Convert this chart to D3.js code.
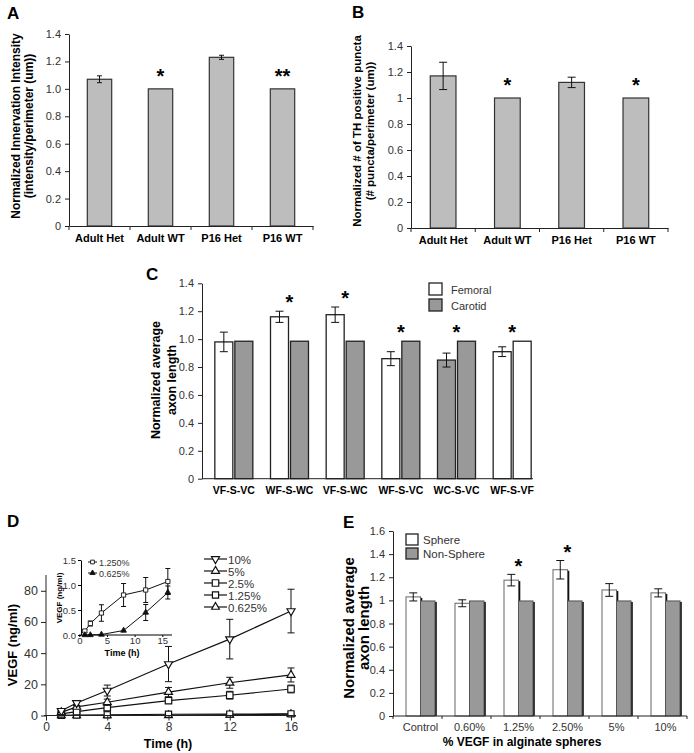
<!DOCTYPE html>
<html><head><meta charset="utf-8">
<script src="https://cdn.jsdelivr.net/npm/d3@7"></script>
<style>body{margin:0;background:#fff} svg{display:block;font-family:"Liberation Sans",Arial,sans-serif}</style>
</head><body>
<script>
// ---------- Panel A ----------
const catsA = ["Adult Het","Adult WT","P16 Het","P16 WT"];
const valsA = [1.07,1.0,1.23,1.0];
const errA  = [0.025,0,0.015,0];
const starsA = ["","*","","**"];
const ticksA = [0,0.2,0.4,0.6,0.8,1.0,1.2,1.4];
// ---------- Panel B ----------
const catsB = ["Adult Het","Adult WT","P16 Het","P16 WT"];
const valsB = [1.17,1.0,1.12,1.0];
const errB  = [0.105,0,0.04,0];
const starsB = ["","*","","*"];
const ticksB = [0,0.2,0.4,0.6,0.8,1.0,1.2,1.4];
// ---------- Panel C ----------
const catsC = ["VF-S-VC","WF-S-WC","VF-S-WC","WF-S-VC","WC-S-VC","WF-S-VF"];
const femoralC = [0.98,1.16,1.175,0.86,0.85,0.91];
const femoralErrC = [0.07,0.04,0.055,0.05,0.05,0.035];
const carotidC = [0.985,0.985,0.985,0.985,0.985,0.985];
const firstFillC = ["white","white","white","white","gray","white"];
const secondFillC = ["gray","gray","gray","gray","gray","white"];
const starsC = ["","*","*","*","*","*"];
const seriesC = ["Femoral","Carotid"];
const ticksC = [0,0.2,0.4,0.6,0.8,1.0,1.2,1.4];
// ---------- Panel D ----------
const timeD = [1,2,4,8,12,16];
const seriesD = ["10%","5%","2.5%","1.25%","0.625%"];
const v10 = [3,8,16,33,49,67],        e10 = [1,1.5,3.5,11.3,12.7,14];
const v5  = [2,5.5,8.5,15,21,26],     e5  = [0.5,1,2,3,3.5,4.5];
const v25 = [1,2.5,5,9.5,13,17],      e25 = [0.5,1,2,1.5,2.5,2.5];
const v125  = [0.08,0.23,0.44,0.8,0.9,1.07], e125  = [0.03,0.05,0.165,0.23,0.25,0.26];
const v0625 = [0,0,0.01,0.09,0.45,0.85],     e0625 = [0,0,0.01,0.02,0.16,0.13];
const ticksDx = [0,4,8,12,16], ticksDy = [0,20,40,60,80];
const insetSeries = ["1.250%","0.625%"];
const ticksInX = [0,5,10,15], ticksInY = [0,0.5,1.0,1.5];
// ---------- Panel E ----------
const catsE = ["Control","0.60%","1.25%","2.50%","5%","10%"];
const sphereE = [1.03,0.975,1.175,1.265,1.09,1.065];
const sphereErrE = [0.035,0.03,0.05,0.08,0.055,0.035];
const nonSphereE = [0.995,0.995,0.995,0.995,0.995,0.995];
const starsE = ["","","*","*","",""];
const seriesE = ["Sphere","Non-Sphere"];
const ticksE = [0,0.2,0.4,0.6,0.8,1.0,1.2,1.4,1.6];

const GRAY_AB = "#bdbdbd", GRAY = "#999";
const svg = d3.select("body").append("svg").attr("width",694).attr("height",753);
const fmt1 = d => d===0 ? "0" : d.toFixed(1);
const fmtShort = d3.format(".1~f");

function panelLetter(t,x,y){
  svg.append("text").attr("x",x).attr("y",y).attr("font-size",17).attr("font-weight","bold").text(t);
}
function yAxis(y,x,ticks,fmt,fs){
  const g = svg.append("g").attr("transform",`translate(${x},0)`)
    .call(d3.axisLeft(y).tickValues(ticks).tickFormat(fmt).tickSize(4).tickSizeOuter(0).tickPadding(4));
  g.select(".domain").attr("stroke","#222");
  g.selectAll(".tick line").attr("stroke","#222");
  g.selectAll("text").attr("font-size",fs).attr("fill","#333");
  return g;
}
function yTitle(lines,xs,cy,fs){
  lines.forEach((l,i)=>svg.append("text").attr("transform",`translate(${xs[i]},${cy}) rotate(-90)`)
    .attr("text-anchor","middle").attr("font-size",fs).attr("font-weight","bold").text(l));
}
function errBar(g,x,yTop,yBot,cap){
  g.append("line").attr("x1",x).attr("x2",x).attr("y1",yTop).attr("y2",yBot).attr("stroke","#111").attr("stroke-width",1);
  g.append("line").attr("x1",x-cap/2).attr("x2",x+cap/2).attr("y1",yTop).attr("y2",yTop).attr("stroke","#111").attr("stroke-width",1);
  g.append("line").attr("x1",x-cap/2).attr("x2",x+cap/2).attr("y1",yBot).attr("y2",yBot).attr("stroke","#111").attr("stroke-width",1);
}
function star(txt,x,yc,fs){
  svg.append("text").attr("x",x).attr("y",yc+fs*0.56).attr("text-anchor","middle")
    .attr("font-size",fs).attr("font-weight","bold").text(txt);
}

// ===== simple bar panel (A, B) =====
function simplePanel(cats,vals,errs,stars,ticks,fmt,x0,x1,y0,y1,cap,titleLines,titleXs,titleCy,titleFs){
  const x = d3.scaleBand(cats,[x0,x1]).paddingInner(0.6).paddingOuter(0.3);
  const y = d3.scaleLinear([0,1.4],[y0,y1]);
  const g = svg.append("g");
  g.selectAll("rect").data(cats).join("rect")
    .attr("x",d=>x(d)).attr("width",x.bandwidth())
    .attr("y",(d,i)=>y(vals[i])).attr("height",(d,i)=>y(0)-y(vals[i]))
    .attr("fill",GRAY_AB).attr("stroke","#333").attr("stroke-width",1.2);
  cats.forEach((c,i)=>{
    const cx = x(c)+x.bandwidth()/2;
    if(errs[i]>0) errBar(g,cx,y(vals[i]+errs[i]),y(vals[i]-errs[i]),cap);
    if(stars[i]) star(stars[i],cx,y(vals[i]+errs[i])-17,20);
  });
  yAxis(y,x0,ticks,fmt,11);
  const xa = svg.append("g").attr("transform",`translate(0,${y0})`)
    .call(d3.axisBottom(x).tickSize(0).tickPadding(8).tickSizeOuter(0));
  xa.select(".domain").attr("stroke","#222");
  xa.selectAll("text").attr("font-size",11).attr("font-weight","bold").attr("fill","#000");
  d3.range(cats.length+1).forEach(k=>{
    const bx = x0 + k*x.step();
    xa.append("line").attr("x1",bx).attr("x2",bx).attr("y1",0).attr("y2",4).attr("stroke","#222");
  });
  yTitle(titleLines,titleXs,titleCy,titleFs);
}
panelLetter("A",7,19);
simplePanel(catsA,valsA,errA,starsA,ticksA,fmt1,69,313,226,34,5,
  ["Normalized Innervation Intensity","(intensity/perimeter (um))"],[19.5,32.5],126,12);
panelLetter("B",352,18);
simplePanel(catsB,valsB,errB,starsB,ticksB,fmtShort,411,668,228,46,8,
  ["Normalized # of TH positive puncta","(# puncta/perimeter (um))"],[361,374],131,11.5);

// ===== Panel C =====
panelLetter("C",146,280);
{
  const x = d3.scaleBand(catsC,[206,540]);
  const xs = d3.scaleBand([0,1],[x.step()/2-19,x.step()/2+19]).paddingInner(0.1);
  const y = d3.scaleLinear([0,1.4],[478.7,283.3]);
  const g = svg.append("g");
  const fillOf = f => f==="gray" ? GRAY : "#fff";
  catsC.forEach((c,i)=>{
    const gx = x(c);
    g.append("rect").attr("x",gx+xs(0)).attr("width",xs.bandwidth())
      .attr("y",y(femoralC[i])).attr("height",y(0)-y(femoralC[i]))
      .attr("fill",fillOf(firstFillC[i])).attr("stroke","#222").attr("stroke-width",1.3);
    g.append("rect").attr("x",gx+xs(1)).attr("width",xs.bandwidth())
      .attr("y",y(carotidC[i])).attr("height",y(0)-y(carotidC[i]))
      .attr("fill",fillOf(secondFillC[i])).attr("stroke","#222").attr("stroke-width",1.3);
    errBar(g,gx+xs(0)+xs.bandwidth()/2,y(femoralC[i]+femoralErrC[i]),y(femoralC[i]-femoralErrC[i]),8);
    if(starsC[i]){
      const top = Math.max(femoralC[i]+femoralErrC[i],carotidC[i]);
      star(starsC[i],gx+x.step()/2,y(top)-13,20);
    }
  });
  yAxis(y,202,ticksC,fmt1,11);
  const xa = svg.append("g").attr("transform","translate(0,478.7)")
    .call(d3.axisBottom(x).tickSize(0).tickPadding(8).tickSizeOuter(0));
  xa.select(".domain").attr("d","M202,0H533").attr("stroke","#222");
  xa.selectAll("text").attr("font-size",10.5).attr("font-weight","bold").attr("fill","#000");
  seriesC.forEach((s,i)=>{
    svg.append("rect").attr("x",429).attr("y",283+i*16).attr("width",13).attr("height",12)
      .attr("fill",i===0?"#fff":GRAY).attr("stroke","#222").attr("stroke-width",1.3);
    svg.append("text").attr("x",451).attr("y",293.5+i*16).attr("font-size",11).attr("fill","#333").text(s);
  });
  yTitle(["Normalized average","axon length"],[160,175.5],380,12.5);
}

// ===== Panel D =====
panelLetter("D",7,527);
{
  const x = d3.scaleLinear([0,16],[46,291]);
  const y = d3.scaleLinear([0,90],[715.5,575.2]);
  const line = d3.line().x((d,i)=>x(timeD[i])).y(d=>y(d));
  const sym = {
    "10%":   {t:d3.symbolTriangle,s:28,r:180},
    "5%":    {t:d3.symbolTriangle,s:28,r:0},
    "2.5%":  {t:d3.symbolSquare,s:42,r:0},
    "1.25%": {t:d3.symbolSquare,s:38,r:0},
    "0.625%":{t:d3.symbolTriangle,s:26,r:0}
  };
  const vals = {"10%":v10,"5%":v5,"2.5%":v25,"1.25%":v125,"0.625%":v0625};
  const errs = {"10%":e10,"5%":e5,"2.5%":e25,"1.25%":null,"0.625%":null};
  const g = svg.append("g");
  seriesD.slice().reverse().forEach(s=>{
    const v = vals[s];
    if(errs[s]) v.forEach((d,i)=>errBar(g,x(timeD[i]),y(d+errs[s][i]),y(Math.max(0,d-errs[s][i])),7));
    g.append("path").attr("d",line(v)).attr("fill","none").attr("stroke","#111").attr("stroke-width",1.2);
    v.forEach((d,i)=>{
      g.append("path").attr("d",d3.symbol(sym[s].t,sym[s].s)())
        .attr("transform",`translate(${x(timeD[i])},${y(d)}) rotate(${sym[s].r})`)
        .attr("fill","#fff").attr("stroke","#111").attr("stroke-width",1.2);
    });
  });
  const ya = yAxis(y,46,ticksDy,d3.format("d"),12.5);
  ya.selectAll(".tick line").attr("x2",-5);
  ya.select(".domain").attr("d","M0,716H0V575");
  const xa = svg.append("g").attr("transform","translate(0,715.5)")
    .call(d3.axisBottom(x).tickValues(ticksDx).tickSize(5).tickSizeOuter(0).tickPadding(2));
  xa.select(".domain").attr("d","M44,0H296").attr("stroke","#222");
  xa.selectAll(".tick line").attr("stroke","#222");
  xa.selectAll("text").attr("font-size",12).attr("fill","#333");
  svg.append("text").attr("x",168).attr("y",747.5).attr("text-anchor","middle").attr("font-size",12.5).attr("font-weight","bold").text("Time (h)");
  yTitle(["VEGF (ng/ml)"],[16.5],645,13);
  // legend
  seriesD.forEach((s,i)=>{
    const ly = 559+i*12;
    svg.append("line").attr("x1",204).attr("x2",227).attr("y1",ly).attr("y2",ly).attr("stroke","#111").attr("stroke-width",1.2);
    svg.append("path").attr("d",d3.symbol(sym[s].t,sym[s].s)())
      .attr("transform",`translate(215.5,${ly}) rotate(${sym[s].r})`)
      .attr("fill","#fff").attr("stroke","#111").attr("stroke-width",1.2);
    svg.append("text").attr("x",228).attr("y",ly+4.5).attr("font-size",11.5).attr("fill","#333").text(s);
  });
  // inset
  const xi = d3.scaleLinear([0,15],[79.3,162.3]);
  const yi = d3.scaleLinear([0,1.5],[635,560]);
  const li = d3.line().x((d,i)=>xi(timeD[i])).y(d=>yi(d));
  const gi = svg.append("g");
  const insetVals = [v125,v0625], insetErr = [e125,e0625];
  insetVals.forEach((v,k)=>{
    v.forEach((d,i)=>{ if(insetErr[k][i]>0.02) errBar(gi,xi(timeD[i]),yi(d+insetErr[k][i]),yi(Math.max(0,d-insetErr[k][i])),5); });
    gi.append("path").attr("d",li(v)).attr("fill","none").attr("stroke","#111").attr("stroke-width",1);
    v.forEach((d,i)=>{
      gi.append("path").attr("d",d3.symbol(k===0?d3.symbolSquare:d3.symbolTriangle,k===0?18:14)())
        .attr("transform",`translate(${xi(timeD[i])},${yi(d)})`)
        .attr("fill",k===0?"#fff":"#111").attr("stroke","#111").attr("stroke-width",0.9);
    });
  });
  const yia = svg.append("g").attr("transform","translate(81,0)")
    .call(d3.axisLeft(yi).tickValues(ticksInY).tickFormat(d3.format(".1f")).tickSize(3).tickSizeOuter(0).tickPadding(2));
  yia.selectAll("text").attr("font-size",9.5).attr("fill","#333");
  const xia = svg.append("g").attr("transform","translate(0,635)")
    .call(d3.axisBottom(xi).tickValues(ticksInX).tickSize(2).tickSizeOuter(0).tickPadding(0));
  xia.select(".domain").attr("d","M79,0H172");
  xia.selectAll("text").attr("font-size",9.5).attr("fill","#333");
  svg.append("text").attr("x",122).attr("y",656).attr("text-anchor","middle").attr("font-size",9).attr("font-weight","bold").text("Time (h)");
  yTitle(["VEGF (ng/ml)"],[61.5],598,8);
  insetSeries.forEach((s,k)=>{
    const ly = 562+k*11;
    svg.append("line").attr("x1",88).attr("x2",97).attr("y1",ly).attr("y2",ly).attr("stroke","#111");
    svg.append("path").attr("d",d3.symbol(k===0?d3.symbolSquare:d3.symbolTriangle,k===0?14:12)())
      .attr("transform",`translate(92.5,${ly})`).attr("fill",k===0?"#fff":"#111").attr("stroke","#111").attr("stroke-width",0.9);
    svg.append("text").attr("x",99).attr("y",ly+3.5).attr("font-size",9).attr("fill","#333").text(s);
  });
}

// ===== Panel E =====
panelLetter("E",343,528);
{
  const x = d3.scaleBand(catsE,[396,690]);
  const xs = d3.scaleBand([0,1],[x.step()/2-14.5,x.step()/2+14.5]);
  const y = d3.scaleLinear([0,1.6],[716,531]);
  const g = svg.append("g");
  catsE.forEach((c,i)=>{
    const gx = x(c);
    [[sphereE[i],"#fff","#666"],[nonSphereE[i],GRAY,"#555"]].forEach(([v,f,st],k)=>{
      g.append("rect").attr("x",gx+xs(k)+1.8).attr("width",xs.bandwidth())
        .attr("y",y(v)+1).attr("height",y(0)-y(v)-1).attr("fill","#111");
      g.append("rect").attr("x",gx+xs(k)).attr("width",xs.bandwidth())
        .attr("y",y(v)).attr("height",y(0)-y(v)).attr("fill",f).attr("stroke",st).attr("stroke-width",1);
    });
    errBar(g,gx+xs(0)+xs.bandwidth()/2,y(sphereE[i]+sphereErrE[i]),y(sphereE[i]-sphereErrE[i]),8);
    if(starsE[i]) star(starsE[i],gx+x.step()/2,y(sphereE[i]+sphereErrE[i])-13,20);
  });
  yAxis(y,393,ticksE,fmtShort,11);
  const xa = svg.append("g").attr("transform","translate(0,716)")
    .call(d3.axisBottom(x).tickSize(0).tickPadding(7).tickSizeOuter(0));
  xa.select(".domain").attr("d","M393,0H687").attr("stroke","#222");
  xa.selectAll("text").attr("font-size",11).attr("fill","#333");
  d3.range(catsE.length+1).forEach(k=>{
    const bx = 393 + k*x.step();
    xa.append("line").attr("x1",bx).attr("x2",bx).attr("y1",0).attr("y2",3).attr("stroke","#222");
  });
  svg.append("text").attr("x",522).attr("y",746).attr("text-anchor","middle").attr("font-size",12).attr("font-weight","bold").text("% VEGF in alginate spheres");
  seriesE.forEach((s,i)=>{
    svg.append("rect").attr("x",406).attr("y",534+i*14).attr("width",12).attr("height",11)
      .attr("fill",i===0?"#fff":GRAY).attr("stroke","#222").attr("stroke-width",1.3);
    svg.append("text").attr("x",423).attr("y",544+i*14).attr("font-size",11.5).attr("fill","#333").text(s);
  });
  yTitle(["Normalized average","axon length"],[353.5,369],628,15);
}
</script>
</body></html>
